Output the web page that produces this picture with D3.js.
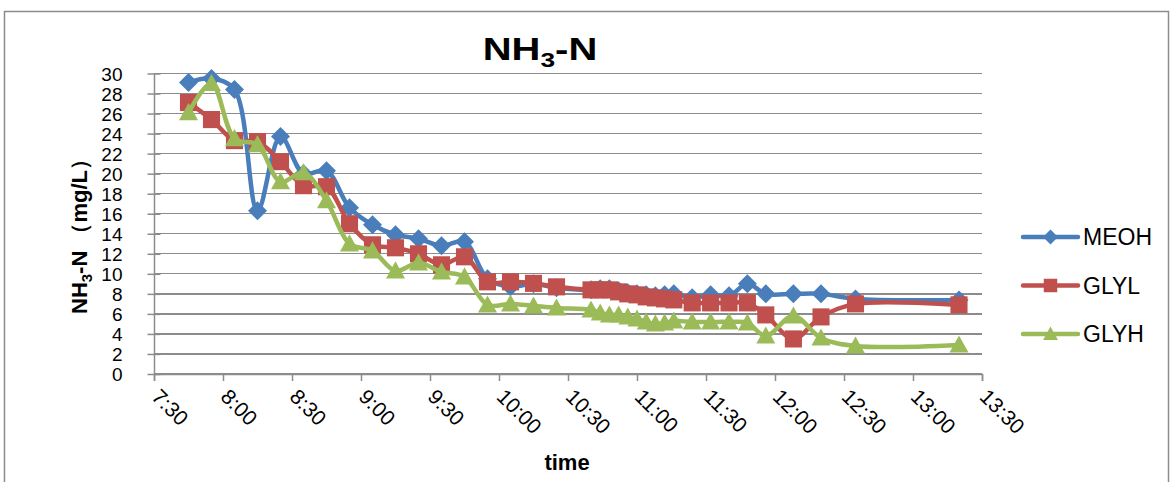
<!DOCTYPE html>
<html lang="en">
<head>
    <meta charset="UTF-8">
    <title>NH3-N</title>
    <script src="https://d3js.org/d3.v7.min.js"></script>
    <style>
        body { margin: 0; background: #fff; }
        svg { display: block; font-family: "Liberation Sans", Arial, sans-serif; }
        .grid line { stroke: #8c8c8c; stroke-width: 1.3; shape-rendering: crispEdges; }
        .axis path, .axis line { stroke: #8c8c8c; stroke-width: 1.5; }
        .axis text { fill: #000; font-size: 19px; }
        .xaxis text { font-size: 21px; }
    </style>
</head>
<body>
<svg id="chart" width="1175" height="482"></svg>
<script>
    // sampling times and measured NH3-N (mg/L)
    const times = ["7:45", "7:55", "8:05", "8:15", "8:25", "8:35", "8:45", "8:55", "9:05", "9:15",
        "9:25", "9:35", "9:45", "9:55", "10:05", "10:15", "10:25",
        "10:40", "10:44", "10:48", "10:52", "10:56", "11:00", "11:04", "11:08", "11:12", "11:16",
        "11:24", "11:32", "11:40", "11:48", "11:56", "12:08", "12:20", "12:35", "13:20"];

    const meoh = [29.1, 29.5, 28.4, 16.3, 23.7, 20.0, 20.3, 16.6, 14.9, 13.9,
        13.5, 12.8, 13.2, 9.5, 8.7, 9.0, 8.6,
        8.4, 8.5, 8.5, 8.3, 8.1, 8.0, 7.9, 7.8, 7.9, 8.0,
        7.6, 7.9, 7.8, 9.0, 8.0, 8.0, 8.0, 7.5, 7.4];

    const glyl = [27.1, 25.4, 23.3, 23.2, 21.2, 18.8, 18.7, 15.0, 12.9, 12.6,
        12.0, 10.9, 11.7, 9.2, 9.2, 9.05, 8.7,
        8.4, 8.4, 8.4, 8.2, 8.0, 7.9, 7.7, 7.6, 7.5, 7.4,
        7.1, 7.1, 7.1, 7.1, 5.9, 3.5, 5.7, 7.0, 6.9];

    const glyh = [26.1, 29.0, 23.5, 22.9, 19.2, 20.1, 17.3, 13.0, 12.3, 10.3,
        11.1, 10.2, 9.7, 6.9, 7.0, 6.8, 6.6,
        6.4, 6.1, 5.9, 5.9, 5.7, 5.5, 5.2, 5.0, 5.1, 5.3,
        5.2, 5.2, 5.2, 5.1, 3.8, 5.8, 3.6, 2.8, 2.9];

    const seriesNames = ["MEOH", "GLYL", "GLYH"];
    const xTickLabels = ["7:30", "8:00", "8:30", "9:00", "9:30", "10:00", "10:30",
        "11:00", "11:30", "12:00", "12:30", "13:00", "13:30"];
    const yTicks = d3.range(0, 31, 2);

    const toMin = s => { const [h, m] = s.split(":").map(Number); return h * 60 + m; };

    const series = [
        { name: seriesNames[0], values: meoh, color: "#4a7ebb", marker: "diamond" },
        { name: seriesNames[1], values: glyl, color: "#c0504d", marker: "square" },
        { name: seriesNames[2], values: glyh, color: "#9bbb59", marker: "triangle" }
    ];

    const svg = d3.select("#chart");

    // outer chart frame
    svg.append("rect")
        .attr("x", 4.5).attr("y", 11.5)
        .attr("width", 1164).attr("height", 520)
        .attr("fill", "none")
        .attr("stroke", "#8c8c8c")
        .attr("stroke-width", 1.5);

    const x = d3.scaleLinear()
        .domain([toMin(xTickLabels[0]), toMin(xTickLabels[xTickLabels.length - 1])])
        .range([154, 982]);

    const y = d3.scaleLinear()
        .domain([0, 30])
        .range([374, 73.5]);

    // horizontal gridlines
    svg.append("g")
        .attr("class", "grid")
        .selectAll("line")
        .data(yTicks)
        .join("line")
        .attr("x1", x.range()[0])
        .attr("x2", x.range()[1])
        .attr("y1", d => y(d))
        .attr("y2", d => y(d));

    // y axis with crossing ticks
    const yAxis = svg.append("g")
        .attr("class", "axis")
        .attr("transform", `translate(${x.range()[0]},0)`)
        .call(d3.axisLeft(y).tickValues(yTicks).tickSizeOuter(0).tickPadding(25).tickSizeInner(6.5));
    yAxis.selectAll(".tick line").attr("x1", 6.5);
    yAxis.selectAll(".tick text").attr("dy", "0.36em");

    // x axis
    const xAxis = svg.append("g")
        .attr("class", "axis xaxis")
        .attr("transform", `translate(0,${y(0)})`)
        .call(d3.axisBottom(x)
            .tickValues(xTickLabels.map(toMin))
            .tickSizeOuter(0)
            .tickSize(7)
            .tickFormat((d, i) => xTickLabels[i]));
    xAxis.selectAll(".tick text")
        .attr("text-anchor", "start")
        .attr("y", 0)
        .attr("dy", 0)
        .attr("transform", "translate(-4,24) rotate(45)");

    // marker shapes
    function markerPath(type, s) {
        if (type === "diamond") return `M0,${-s}L${s},0L0,${s}L${-s},0Z`;
        if (type === "square") return `M${-s * 0.9},${-s * 0.9}H${s * 0.9}V${s * 0.9}H${-s * 0.9}Z`;
        return `M0,${-s}L${s},${s * 0.8}L${-s},${s * 0.8}Z`;
    }

    const line = d3.line()
        .x(d => x(toMin(d.t)))
        .y(d => y(d.v))
        .curve(d3.curveCatmullRom.alpha(0.5));

    series.forEach(s => {
        const pts = times.map((t, i) => ({ t, v: s.values[i] }));
        const g = svg.append("g");
        g.append("path")
            .datum(pts)
            .attr("d", line)
            .attr("fill", "none")
            .attr("stroke", s.color)
            .attr("stroke-width", 4.5)
            .attr("stroke-linejoin", "round")
            .attr("stroke-linecap", "round");
        g.selectAll("path.mk")
            .data(pts)
            .join("path")
            .attr("class", "mk")
            .attr("transform", d => `translate(${x(toMin(d.t))},${y(d.v)})`)
            .attr("d", markerPath(s.marker, 9.5))
            .attr("fill", s.color);
    });

    // title
    const title = svg.append("text")
        .attr("transform", "translate(540,60) scale(1.25,1)")
        .attr("text-anchor", "middle")
        .attr("font-size", 32)
        .attr("font-weight", "bold");
    title.append("tspan").text("NH");
    title.append("tspan").attr("font-size", 21).attr("dy", 7).text("3");
    title.append("tspan").attr("dy", -7).text("-N");

    // y axis title
    const yTitle = svg.append("text")
        .attr("transform", "translate(87,231) rotate(-90)")
        .attr("text-anchor", "middle")
        .attr("font-size", 22)
        .attr("font-weight", "bold");
    yTitle.append("tspan").text("NH");
    yTitle.append("tspan").attr("font-size", 15).attr("dy", 5).text("3");
    yTitle.append("tspan").attr("dy", -5).text("-N （mg/L）");

    // x axis title
    svg.append("text")
        .attr("x", 567).attr("y", 470)
        .attr("text-anchor", "middle")
        .attr("font-size", 22)
        .attr("font-weight", "bold")
        .text("time");

    // legend
    const legend = svg.append("g")
        .selectAll("g")
        .data(series)
        .join("g")
        .attr("transform", (d, i) => `translate(1023,${237 + i * 48.5})`);
    legend.append("line")
        .attr("x1", 0).attr("x2", 55)
        .attr("stroke", d => d.color)
        .attr("stroke-width", 4.5)
        .attr("stroke-linecap", "round");
    legend.append("path")
        .attr("transform", "translate(27.5,0)")
        .attr("d", d => markerPath(d.marker, 7.5))
        .attr("fill", d => d.color);
    legend.append("text")
        .attr("x", 60)
        .attr("dy", "0.36em")
        .attr("font-size", 23)
        .text(d => d.name);
</script>
</body>
</html>
